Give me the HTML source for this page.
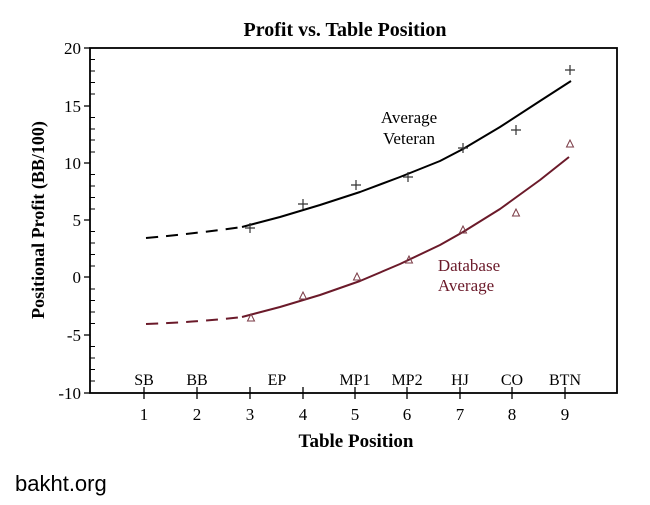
<!DOCTYPE html>
<html><head><meta charset="utf-8"><style>
html,body{margin:0;padding:0;background:#fff;}
svg{display:block;}
text{font-family:"Liberation Serif",serif;}
</style></head><body>
<svg width="650" height="505" viewBox="0 0 650 505" xmlns="http://www.w3.org/2000/svg">
<rect width="650" height="505" fill="#fff"/>
<text x="345" y="36" font-size="20" font-weight="bold" text-anchor="middle">Profit vs. Table Position</text>
<rect x="90" y="48" width="527" height="345" fill="none" stroke="#000" stroke-width="1.8"/>
<g stroke="#000" stroke-width="1.3">
<line x1="84" y1="48" x2="90" y2="48"/><line x1="84" y1="106" x2="90" y2="106"/><line x1="84" y1="163" x2="90" y2="163"/><line x1="84" y1="220" x2="90" y2="220"/><line x1="84" y1="277" x2="90" y2="277"/><line x1="84" y1="335" x2="90" y2="335"/><line x1="84" y1="393" x2="90" y2="393"/>
</g>
<g stroke="#000" stroke-width="1">
<line x1="90" x2="95" y1="59.5" y2="59.5"/><line x1="90" x2="95" y1="71" y2="71"/><line x1="90" x2="95" y1="82.5" y2="82.5"/><line x1="90" x2="95" y1="94" y2="94"/>
<line x1="90" x2="95" y1="117.5" y2="117.5"/><line x1="90" x2="95" y1="129" y2="129"/><line x1="90" x2="95" y1="140" y2="140"/><line x1="90" x2="95" y1="152" y2="152"/>
<line x1="90" x2="95" y1="174.5" y2="174.5"/><line x1="90" x2="95" y1="186" y2="186"/><line x1="90" x2="95" y1="197.5" y2="197.5"/><line x1="90" x2="95" y1="209" y2="209"/>
<line x1="90" x2="95" y1="231.5" y2="231.5"/><line x1="90" x2="95" y1="243" y2="243"/><line x1="90" x2="95" y1="254.5" y2="254.5"/><line x1="90" x2="95" y1="266" y2="266"/>
<line x1="90" x2="95" y1="289" y2="289"/><line x1="90" x2="95" y1="300.5" y2="300.5"/><line x1="90" x2="95" y1="312" y2="312"/><line x1="90" x2="95" y1="323.5" y2="323.5"/>
<line x1="90" x2="95" y1="346.5" y2="346.5"/><line x1="90" x2="95" y1="358" y2="358"/><line x1="90" x2="95" y1="369.5" y2="369.5"/><line x1="90" x2="95" y1="381" y2="381"/>
</g>
<g font-size="17" text-anchor="end">
<text x="81" y="54">20</text><text x="81" y="112">15</text><text x="81" y="169">10</text><text x="81" y="226">5</text><text x="81" y="283">0</text><text x="81" y="341">-5</text><text x="81" y="399">-10</text>
</g>
<text transform="translate(44,220) rotate(-90)" font-size="18" font-weight="bold" text-anchor="middle">Positional Profit (BB/100)</text>
<g stroke="#000" stroke-width="1.3">
<line x1="144" x2="144" y1="387" y2="399"/><line x1="197" x2="197" y1="387" y2="399"/><line x1="250" x2="250" y1="387" y2="399"/><line x1="303" x2="303" y1="387" y2="399"/><line x1="355" x2="355" y1="387" y2="399"/><line x1="407" x2="407" y1="387" y2="399"/><line x1="460" x2="460" y1="387" y2="399"/><line x1="512" x2="512" y1="387" y2="399"/><line x1="565" x2="565" y1="387" y2="399"/>
</g>
<g font-size="17" text-anchor="middle">
<text x="144" y="420">1</text><text x="197" y="420">2</text><text x="250" y="420">3</text><text x="303" y="420">4</text><text x="355" y="420">5</text><text x="407" y="420">6</text><text x="460" y="420">7</text><text x="512" y="420">8</text><text x="565" y="420">9</text>
</g>
<g font-size="16" text-anchor="middle">
<text x="144" y="385">SB</text><text x="197" y="385">BB</text><text x="277" y="385">EP</text><text x="355" y="385">MP1</text><text x="407" y="385">MP2</text><text x="460" y="385">HJ</text><text x="512" y="385">CO</text><text x="565" y="385">BTN</text>
</g>
<text x="356" y="447" font-size="19" font-weight="bold" text-anchor="middle">Table Position</text>
<text x="15" y="491" font-size="22" style="font-family:'Liberation Sans',sans-serif">bakht.org</text>
<path d="M146,238 Q200,233 242,227" fill="none" stroke="#000" stroke-width="2" stroke-dasharray="12,8"/>
<polyline points="242,227 280,217 320,205 360,192 400,177 440,161 463,149 500,127 540,101 571,81" fill="none" stroke="#000" stroke-width="2" stroke-linejoin="round"/>
<path d="M146,324 Q200,322 242,317" fill="none" stroke="#6b1a2a" stroke-width="2" stroke-dasharray="12,8"/>
<polyline points="242,317 280,307 320,295 360,281 400,264 440,245 463,232 500,209 540,180 569,157" fill="none" stroke="#6b1a2a" stroke-width="2" stroke-linejoin="round"/>
<g stroke="#333" stroke-width="1.2">
<path d="M245,228h10M250,223v10"/><path d="M298,204h10M303,199v10"/><path d="M351,185h10M356,180v10"/><path d="M403,177h10M408,172v10"/><path d="M458,148h10M463,143v10"/><path d="M511,130h10M516,125v10"/><path d="M565,70h10M570,65v10"/>
</g>
<g fill="none" stroke="#7a3a45" stroke-width="1">
<path d="M251,314l-3.5,7h7z"/><path d="M303,292l-3.5,7h7z"/><path d="M357,273l-3.5,7h7z"/><path d="M409,256l-3.5,7h7z"/><path d="M463,226l-3.5,7h7z"/><path d="M516,209l-3.5,7h7z"/><path d="M570,140l-3.5,7h7z"/>
</g>
<text x="409" y="123" font-size="17" text-anchor="middle">Average</text>
<text x="409" y="144" font-size="17" text-anchor="middle">Veteran</text>
<text x="469" y="271" font-size="17" text-anchor="middle" fill="#6b1a2a">Database</text>
<text x="466" y="291" font-size="17" text-anchor="middle" fill="#6b1a2a">Average</text>
</svg>
</body></html>
